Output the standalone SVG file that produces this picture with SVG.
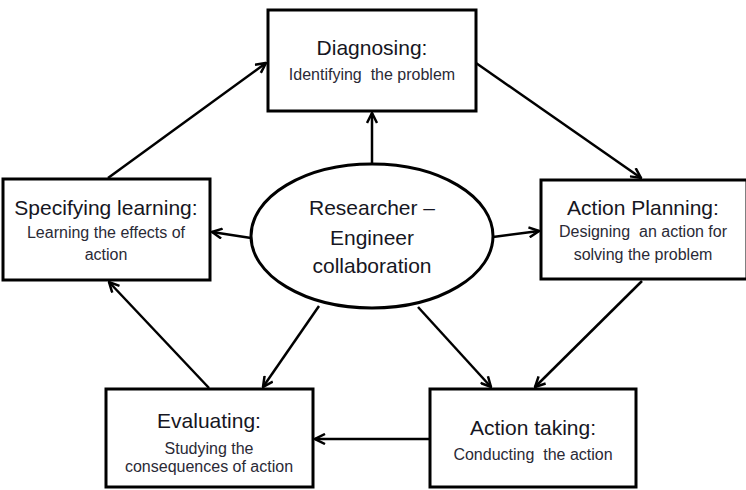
<svg xmlns="http://www.w3.org/2000/svg" width="746" height="490" viewBox="0 0 746 490">
<defs>
<style>
.box{fill:#fff;stroke:#000;stroke-width:3}
.t{font-family:"Liberation Sans",Arial,sans-serif;font-size:21px;fill:#161622;text-anchor:middle}
.s{font-family:"Liberation Sans",Arial,sans-serif;font-size:16px;fill:#2a2a36;text-anchor:middle}
.c{font-family:"Liberation Sans",Arial,sans-serif;font-size:21px;fill:#161622;text-anchor:middle}
.ln{stroke:#000;stroke-width:2.5;fill:none;marker-end:url(#ah)}
</style>
<marker id="ah" viewBox="0 0 12 12" refX="11" refY="6" markerWidth="12" markerHeight="12" markerUnits="userSpaceOnUse" orient="auto">
<path d="M1,1 L11,6 L1,11" fill="none" stroke="#000" stroke-width="2.5"/>
</marker>
</defs>
<rect width="746" height="490" fill="#fff"/>
<g id="connectors">
<line class="ln" x1="108" y1="178" x2="266" y2="63"/>
<line class="ln" x1="476" y1="63" x2="641" y2="178"/>
<line class="ln" x1="642" y1="281" x2="535" y2="387"/>
<line class="ln" x1="429" y1="439" x2="315" y2="439"/>
<line class="ln" x1="209" y1="388" x2="109" y2="282"/>
<line class="ln" x1="372" y1="164" x2="372" y2="113"/>
<line class="ln" x1="251" y1="238" x2="212" y2="232"/>
<line class="ln" x1="493" y1="237" x2="539" y2="231"/>
<line class="ln" x1="319" y1="306" x2="263" y2="387"/>
<line class="ln" x1="418" y1="307" x2="491" y2="387"/>
</g>
<g id="diagnosing">
<rect class="box" x="268" y="10" width="208" height="101"/>
<text class="t" x="372" y="55">Diagnosing:</text>
<text class="s" x="372" y="80" xml:space="preserve">Identifying  the problem</text>
</g>
<g id="specifying">
<rect class="box" x="3" y="179" width="207" height="101"/>
<text class="t" x="106" y="215">Specifying learning:</text>
<text class="s" x="106" y="238">Learning the effects of</text>
<text class="s" x="106" y="260">action</text>
</g>
<g id="planning">
<rect class="box" x="541" y="180" width="206" height="99"/>
<text class="t" x="643" y="215">Action Planning:</text>
<text class="s" x="643" y="237" xml:space="preserve">Designing  an action for</text>
<text class="s" x="643" y="260">solving the problem</text>
</g>
<g id="evaluating">
<rect class="box" x="106" y="389" width="207" height="98"/>
<text class="t" x="209" y="428">Evaluating:</text>
<text class="s" x="209" y="454">Studying the</text>
<text class="s" x="209" y="472">consequences of action</text>
</g>
<g id="taking">
<rect class="box" x="430" y="389" width="206" height="98"/>
<text class="t" x="533" y="435">Action taking:</text>
<text class="s" x="533" y="460" xml:space="preserve">Conducting  the action</text>
</g>
<g id="collaboration">
<ellipse cx="372" cy="236" rx="121" ry="72" fill="#fff" stroke="#000" stroke-width="3"/>
<text class="c" x="372" y="215">Researcher –</text>
<text class="c" x="372" y="245">Engineer</text>
<text class="c" x="372" y="273">collaboration</text>
</g>
</svg>
